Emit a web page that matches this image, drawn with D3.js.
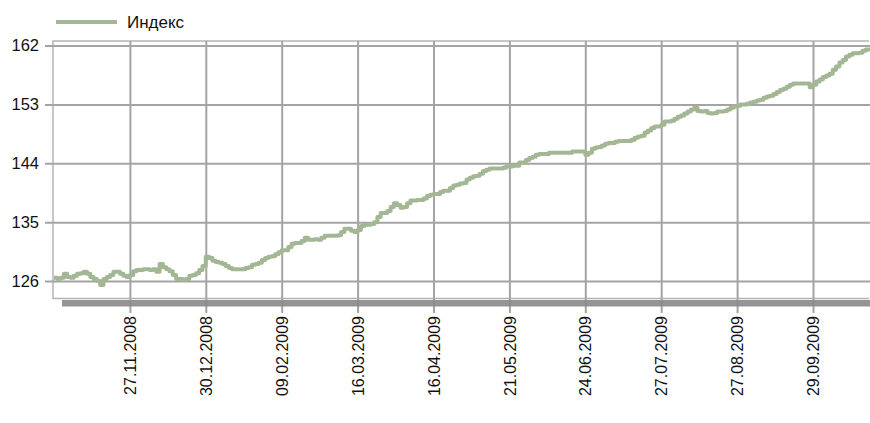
<!DOCTYPE html>
<html>
<head>
<meta charset="utf-8">
<script src="https://cdn.jsdelivr.net/npm/d3@7"></script>
<style>
  html, body { margin: 0; background: #fff; overflow: hidden; width: 870px; height: 423px; }
  svg { display: block; overflow: hidden; font-family: "Liberation Sans", Arial, sans-serif; }
</style>
</head>
<body>
<svg width="870" height="423"></svg>
<script>
// series name for legend
var seriesName = "Индекс";

// daily index values (one per trading day)
var values = [
  126.5, 126.3, 126.5, 127.1, 126.6, 126.5, 126.8, 127.1, 127.2, 127.4,
  127.1, 126.6, 126.3, 126.0, 125.4, 126.3, 126.6, 126.9, 127.4, 127.4,
  127.1, 126.8, 126.6, 126.9, 127.5, 127.7, 127.7, 127.8, 127.8, 127.7,
  127.8, 127.4, 128.6, 128.1, 127.8, 127.5, 126.9, 126.3, 126.3, 126.2,
  126.3, 126.8, 126.9, 127.2, 127.7, 128.3, 129.7, 129.5, 129.1, 128.9,
  128.8, 128.6, 128.3, 128.0, 127.8, 127.8, 127.8, 127.8, 128.0, 128.1,
  128.5, 128.6, 128.8, 129.2, 129.5, 129.7, 129.8, 130.1, 130.4, 130.7,
  130.7, 131.2, 131.7, 131.8, 131.8, 132.1, 132.6, 132.3, 132.3, 132.4,
  132.3, 132.6, 132.9, 132.9, 132.9, 132.9, 133.0, 133.5, 134.0, 134.0,
  133.7, 133.5, 133.8, 134.4, 134.6, 134.6, 134.7, 135.0, 135.8, 136.4,
  136.4, 136.7, 137.3, 137.9, 137.6, 137.2, 137.3, 137.9, 138.3, 138.3,
  138.4, 138.4, 138.6, 139.0, 139.2, 139.3, 139.3, 139.6, 139.8, 139.8,
  140.2, 140.6, 140.7, 140.9, 141.0, 141.5, 141.8, 142.0, 142.1, 142.4,
  142.8, 143.0, 143.2, 143.2, 143.2, 143.2, 143.3, 143.5, 143.5, 143.6,
  143.6, 144.1, 144.1, 144.5, 144.8, 145.0, 145.3, 145.4, 145.4, 145.4,
  145.6, 145.6, 145.6, 145.6, 145.6, 145.6, 145.6, 145.8, 145.8, 145.8,
  145.8, 145.3, 145.6, 146.2, 146.4, 146.5, 146.7, 147.0, 147.1, 147.1,
  147.3, 147.4, 147.4, 147.4, 147.4, 147.6, 147.9, 148.1, 148.2, 148.7,
  149.0, 149.4, 149.6, 149.6, 149.9, 150.4, 150.4, 150.5, 150.8, 151.1,
  151.3, 151.6, 151.9, 152.2, 152.5, 152.0, 151.9, 152.0, 151.7, 151.6,
  151.7, 151.9, 151.9, 152.0, 152.2, 152.5, 152.7, 152.8, 153.0, 153.0,
  153.1, 153.3, 153.4, 153.6, 153.7, 154.0, 154.2, 154.3, 154.6, 154.9,
  155.2, 155.4, 155.7, 156.0, 156.2, 156.2, 156.2, 156.2, 156.2, 155.6,
  156.0, 156.5, 156.8, 157.2, 157.4, 157.7, 158.3, 158.8, 159.4, 159.8,
  160.3, 160.6, 160.8, 160.8, 160.9, 161.2, 161.4, 161.7
];

// x tick positions (trading-day index) and their dates
var tickIndex = [23, 46, 69, 92, 115, 138, 161, 184, 207, 230];
var tickLabels = ["27.11.2008", "30.12.2008", "09.02.2009", "16.03.2009", "16.04.2009",
                  "21.05.2009", "24.06.2009", "27.07.2009", "27.08.2009", "29.09.2009"];

var yTicks = [126, 135, 144, 153, 162];

var lineColor = "#a3b795";
var gridColor = "#a4a4a4";

var svg = d3.select("svg");

var plotLeft = 53, plotTop = 41, plotBottom = 298.5, plotRight = 869;

var x = d3.scaleLinear().domain([0, 230]).range([54, 813]);
var y = d3.scaleLinear().domain([126, 162]).range([281, 45.5]);

// plot frame (left, top, bottom edges; the right side runs off the picture)
svg.append("path")
    .attr("d", "M" + plotRight + "," + plotTop + "H" + plotLeft + "V" + plotBottom + "H" + plotRight)
    .attr("fill", "none")
    .attr("stroke", "#b4b4b4")
    .attr("stroke-width", 1.5);

// y axis + horizontal grid
var yAxis = svg.append("g")
    .attr("transform", "translate(45,0)")
    .call(d3.axisLeft(y).tickValues(yTicks).tickSize(-(870 - 45)).tickPadding(6));
yAxis.select(".domain").remove();
yAxis.selectAll("line").attr("stroke", gridColor).attr("stroke-width", 2);
yAxis.selectAll("text")
    .attr("font-size", 16.5)
    .attr("fill", "#111")
    .attr("font-family", "Liberation Sans, Arial, sans-serif");

// x axis + vertical grid
var xAxis = svg.append("g")
    .attr("transform", "translate(0,313)")
    .call(d3.axisBottom(x).tickValues(tickIndex)
        .tickFormat(function (d, i) { return tickLabels[i]; })
        .tickSize(-(313 - plotTop)));
xAxis.select(".domain").remove();
xAxis.selectAll("line").attr("stroke", gridColor).attr("stroke-width", 2);
xAxis.selectAll("text")
    .attr("transform", "rotate(-90)")
    .attr("x", -3)
    .attr("y", 0)
    .attr("dy", "0.35em")
    .attr("text-anchor", "end")
    .attr("font-size", 16)
    .attr("fill", "#111")
    .attr("font-family", "Liberation Sans, Arial, sans-serif");

// shadow under the plot, grid lines faintly showing through
svg.append("line")
    .attr("x1", 62).attr("x2", 870)
    .attr("y1", 303.25).attr("y2", 303.25)
    .attr("stroke", "#888")
    .attr("stroke-width", 6.5)
    .attr("stroke-opacity", 0.9);

// the series line
var line = d3.line()
    .x(function (d, i) { return x(i); })
    .y(function (d) { return y(d); })
    .curve(d3.curveStepAfter);

svg.append("path")
    .datum(values)
    .attr("d", line)
    .attr("fill", "none")
    .attr("stroke", lineColor)
    .attr("stroke-width", 4)
    .attr("stroke-linejoin", "round");

// legend
var legend = svg.append("g");
legend.append("line")
    .attr("x1", 56).attr("x2", 117)
    .attr("y1", 22).attr("y2", 22)
    .attr("stroke", lineColor)
    .attr("stroke-width", 4);
legend.append("text")
    .attr("x", 127).attr("y", 22)
    .attr("dy", "0.35em")
    .attr("font-size", 17)
    .attr("fill", "#111")
    .text(seriesName);
</script>
</body>
</html>
